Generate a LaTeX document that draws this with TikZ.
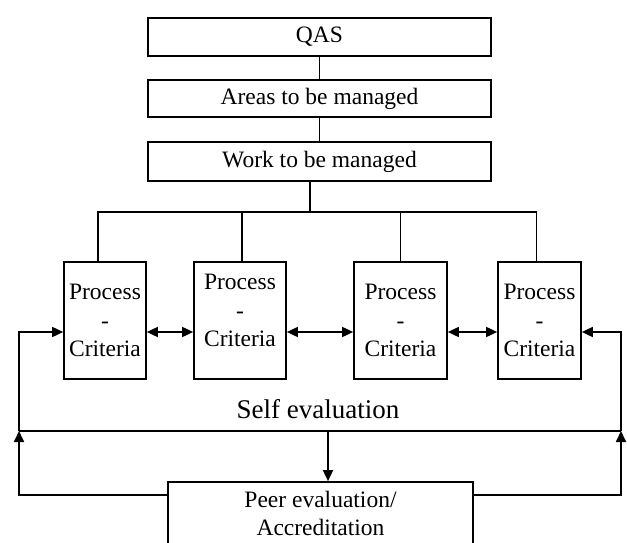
\documentclass[tikz,border=0pt]{standalone}
\usepackage{fontspec}
\setmainfont{Liberation Serif}
\usetikzlibrary{arrows.meta}
\tikzset{
  box/.style={draw,line width=1.7pt,align=center,inner sep=0pt,font=\fontsize{23.5}{28.5}\selectfont},
  pcbox/.style={box,minimum height=117pt},
  tip/.style={-{Triangle[length=11pt,width=10pt]}},
  dbl/.style={{Triangle[length=11pt,width=10pt]}-{Triangle[length=11pt,width=10pt]}},
}
\begin{document}
\begin{tikzpicture}[x=1pt,y=-1pt,line width=1.7pt]
\clip (0,0) rectangle (627,543);
\node[box,minimum width=343pt,minimum height=38pt] (qas) at (319.5,37) {QAS};
\node[box,minimum width=343pt,minimum height=37pt] (areas) at (319.5,98.5) {Areas to be managed};
\node[box,minimum width=343pt,minimum height=39pt] (work) at (319.5,161.5) {Work to be managed};
\node[pcbox,minimum width=82pt] (p1) at (105,320.5) {Process\\-\\Criteria};
\node[pcbox,minimum width=92pt,text height=52pt,text depth=0pt] (p2) at (240,320.5) {Process\\-\\Criteria};
\node[pcbox,minimum width=93pt] (p3) at (400.5,320.5) {Process\\-\\Criteria};
\node[pcbox,minimum width=83pt] (p4) at (539.5,320.5) {Process\\-\\Criteria};
\node[font=\fontsize{27}{32}\selectfont] (self) at (318,409) {Self evaluation};
\node[box,minimum width=305pt,minimum height=63pt] (peer) at (320.5,513.5) {Peer evaluation/\\Accreditation};
\coordinate (bus) at (310,212);
\coordinate (row) at (0,332);
\coordinate (selfl) at (19,431);
\coordinate (selfr) at (621,431);
\coordinate (peerrow) at (0,495);
\draw (qas) -- (areas);
\draw (areas) -- (work);
\draw (work.south -| bus) -- (bus);
\draw ([xshift=-7pt]p1.north) |- (bus) -| ([xshift=-3pt]p4.north);
\draw ([xshift=2pt]p2.north) -- ([xshift=2pt]p2.north |- bus);
\draw (p3.north) -- (p3.north |- bus);
\draw[dbl] (p1.east |- row) -- (p2.west |- row);
\draw[dbl] (p2.east |- row) -- (p3.west |- row);
\draw[dbl] (p3.east |- row) -- (p4.west |- row);
\draw (selfl) -- (selfr);
\draw[tip] (selfl -| 328,0) -- (peer.north -| 328,0);
\draw[tip] (peer.west |- peerrow) -| (selfl);
\draw[tip] (peer.east |- peerrow) -| (selfr);
\draw[tip] (selfl) |- (p1.west |- row);
\draw[tip] (selfr) |- (p4.east |- row);
\end{tikzpicture}
\end{document}
